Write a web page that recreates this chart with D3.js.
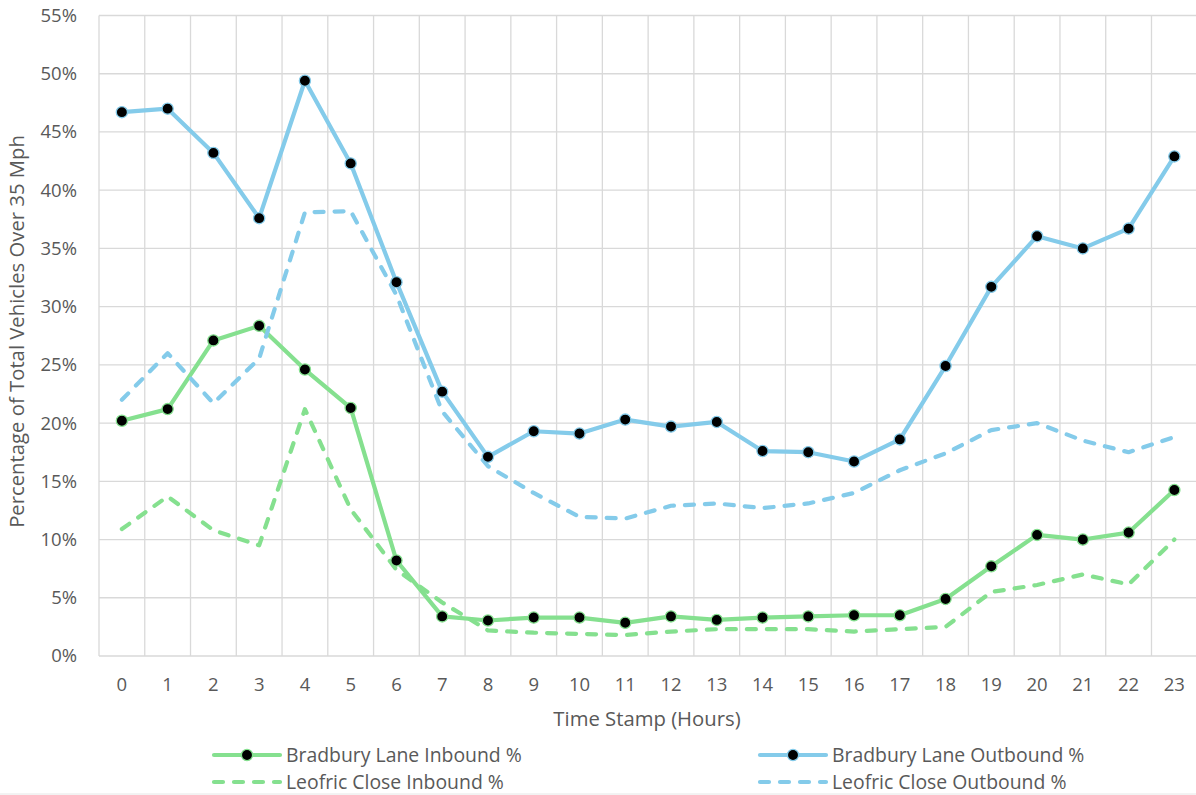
<!DOCTYPE html>
<html>
<head>
<meta charset="utf-8">
<script src="https://cdn.jsdelivr.net/npm/d3@7"></script>
<style>
  html, body { margin: 0; padding: 0; background: #fff; }
  svg { display: block; }
  text { font-family: "Open Sans", Roboto, "Liberation Sans", sans-serif; fill: #595959; }
</style>
</head>
<body>
<svg id="chart" width="1196" height="795"></svg>
<script>
const hours = d3.range(0, 24).map(String);
const yTicks = [0, 5, 10, 15, 20, 25, 30, 35, 40, 45, 50, 55];

const bradburyInbound = [20.2, 21.2, 27.1, 28.35, 24.6, 21.3, 8.2, 3.4, 3.05, 3.3, 3.3, 2.85, 3.4, 3.1, 3.3, 3.4, 3.5, 3.5, 4.9, 7.7, 10.4, 10.0, 10.6, 14.25];
const bradburyOutbound = [46.7, 47.0, 43.2, 37.6, 49.4, 42.3, 32.1, 22.7, 17.1, 19.3, 19.1, 20.3, 19.7, 20.1, 17.6, 17.5, 16.7, 18.6, 24.9, 31.7, 36.05, 35.0, 36.7, 42.9];
const leofricInbound = [10.9, 13.7, 10.8, 9.5, 21.2, 12.6, 7.4, 4.6, 2.2, 2.0, 1.9, 1.8, 2.1, 2.3, 2.3, 2.3, 2.1, 2.3, 2.5, 5.5, 6.1, 7.0, 6.15, 10.0];
const leofricOutbound = [22.0, 26.0, 21.7, 25.55, 38.1, 38.2, 31.0, 21.0, 16.3, 14.0, 11.95, 11.8, 12.9, 13.1, 12.7, 13.1, 14.0, 15.95, 17.4, 19.4, 20.0, 18.5, 17.5, 18.8];

const seriesNames = ["Bradbury Lane Inbound %", "Bradbury Lane Outbound %", "Leofric Close Inbound %", "Leofric Close Outbound %"];

const GREEN = "#85E08F", BLUE = "#84CBEA";
const series = [
  {name: seriesNames[0], values: bradburyInbound, color: GREEN, dashed: false},
  {name: seriesNames[1], values: bradburyOutbound, color: BLUE, dashed: false},
  {name: seriesNames[2], values: leofricInbound, color: GREEN, dashed: true},
  {name: seriesNames[3], values: leofricOutbound, color: BLUE, dashed: true}
];

const svg = d3.select("#chart");
const leftM = 99, topM = 15.5, bandW = 45.76;
const plotW = bandW * 24, plotH = 640.5;
const TICK_FS = 18.5, TITLE_FS = 20.3, LEGEND_FS = 19.4;

const x = d3.scaleBand().domain(hours).range([leftM, leftM + plotW]).padding(0);
const y = d3.scaleLinear().domain([0, 55]).range([topM + plotH, topM]);

const grid = svg.append("g");
grid.selectAll("line.h").data(yTicks).join("line")
  .attr("x1", leftM).attr("x2", leftM + plotW)
  .attr("y1", d => y(d)).attr("y2", d => y(d))
  .attr("stroke", "#d9d9d9").attr("stroke-width", 1.3);
grid.selectAll("line.v").data(hours.concat(["end"])).join("line")
  .attr("x1", (d, i) => leftM + i * x.bandwidth()).attr("x2", (d, i) => leftM + i * x.bandwidth())
  .attr("y1", topM).attr("y2", topM + plotH)
  .attr("stroke", "#d9d9d9").attr("stroke-width", 1.3);

// faint chart-area border at bottom
svg.append("line").attr("x1", 0).attr("x2", 1196).attr("y1", 794).attr("y2", 794)
  .attr("stroke", "#e6e6e6").attr("stroke-width", 1);

const yAxis = svg.append("g").attr("transform", `translate(${leftM},0)`)
  .call(d3.axisLeft(y).tickValues(yTicks).tickFormat(d => d + "%").tickSize(0).tickPadding(22));
yAxis.select(".domain").remove();
yAxis.selectAll("text").attr("font-size", TICK_FS).style("fill", "#595959")
  .style("font-family", "'Open Sans', Roboto, sans-serif");

const xAxis = svg.append("g").attr("transform", `translate(0,${topM + plotH})`)
  .call(d3.axisBottom(x).tickSize(0).tickPadding(22));
xAxis.select(".domain").remove();
xAxis.selectAll("text").attr("font-size", TICK_FS).style("fill", "#595959")
  .style("font-family", "'Open Sans', Roboto, sans-serif");

svg.append("text").attr("x", 647).attr("y", 725.5).attr("text-anchor", "middle")
  .attr("font-size", TITLE_FS).text("Time Stamp (Hours)");
svg.append("text").attr("transform", "translate(24,331.5) rotate(-90)").attr("text-anchor", "middle")
  .attr("font-size", TITLE_FS).text("Percentage of Total Vehicles Over 35 Mph");

const line = d3.line().x((d, i) => x(hours[i]) + x.bandwidth() / 2).y(d => y(d));
series.forEach(s => {
  svg.append("path").datum(s.values)
    .attr("d", line)
    .attr("fill", "none").attr("stroke", s.color).attr("stroke-width", 4.2)
    .attr("stroke-linejoin", "round").attr("stroke-linecap", "round")
    .attr("stroke-dasharray", s.dashed ? "9,11" : null);
});
series.filter(s => !s.dashed).forEach(s => {
  svg.append("g").selectAll("circle").data(s.values).join("circle")
    .attr("cx", (d, i) => x(hours[i]) + x.bandwidth() / 2)
    .attr("cy", d => y(d))
    .attr("r", 5.6).attr("fill", "#000").attr("stroke", s.color).attr("stroke-width", 1.3);
});

const legendPos = [
  {lx: 214, ly: 755}, {lx: 760, ly: 755}, {lx: 214, ly: 782}, {lx: 760, ly: 782}
];
series.forEach((s, i) => {
  const p = legendPos[i];
  const g = svg.append("g");
  g.append("line").attr("x1", p.lx).attr("x2", p.lx + 66).attr("y1", p.ly).attr("y2", p.ly)
    .attr("stroke", s.color).attr("stroke-width", 4.2)
    .attr("stroke-linecap", "round")
    .attr("stroke-dasharray", s.dashed ? "9,11" : null);
  if (!s.dashed) {
    g.append("circle").attr("cx", p.lx + 33).attr("cy", p.ly).attr("r", 5.6)
      .attr("fill", "#000").attr("stroke", s.color).attr("stroke-width", 1.3);
  }
  g.append("text").attr("x", p.lx + 72).attr("y", p.ly + 7)
    .attr("font-size", LEGEND_FS).text(s.name);
});
</script>
</body>
</html>
